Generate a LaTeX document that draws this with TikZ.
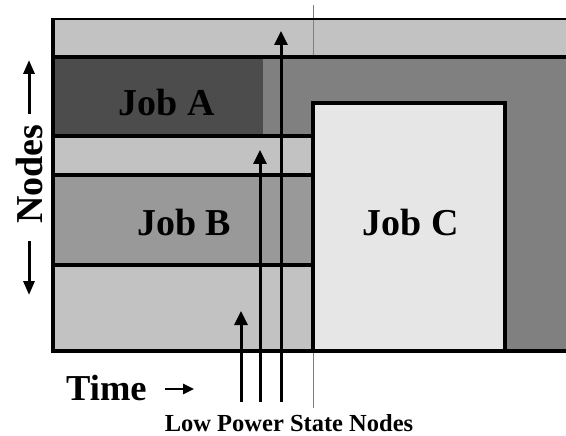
\documentclass[tikz,border=0pt]{standalone}
\usepackage{fontspec}
\setmainfont{Liberation Serif}
\usetikzlibrary{arrows.meta}
\definecolor{lightband}{HTML}{C2C2C2}
\definecolor{jobAgray}{HTML}{4C4C4C}
\definecolor{jobBgray}{HTML}{999999}
\definecolor{jobCgray}{HTML}{E6E6E6}
\definecolor{idlegray}{HTML}{808080}
\begin{document}
\begin{tikzpicture}[x=1pt, y=-1pt,
  edge/.style={line width=3.5pt},
  lowarrow/.style={line width=3pt, -{Triangle[width=13pt,length=14pt]}},
  joblabel/.style={font=\fontsize{38}{42}\selectfont\bfseries, anchor=base}]
  \useasboundingbox (0,0) rectangle (566,436);
  % background bands
  \fill[lightband] (53,19) rectangle (566,57);
  \fill[idlegray] (53,57) rectangle (566,351);
  \fill[jobAgray] (53,57) rectangle (263,136);
  \fill[lightband] (53,136) rectangle (313,175);
  \fill[jobBgray] (53,175) rectangle (313,265);
  \fill[lightband] (53,265) rectangle (313,351);
  \fill[jobCgray] (313,103) rectangle (505,351);
  % time marker
  \draw[gray, line width=1pt] (313,5) -- (313,408);
  % outlines
  \draw[line width=2.5pt] (566,19) -- (53,19);
  \draw[edge] (53,17.8) -- (53,351) -- (566,351);
  \draw[edge] (53,57) -- (566,57);
  \foreach \y in {136,175,265} \draw[edge] (53,\y) -- (313,\y);
  \draw[edge] (313,351) -- (313,103) -- (505,103) -- (505,351);
  % low power state arrows
  \draw[lowarrow] (241,402) -- (241,311);
  \draw[lowarrow] (260,402) -- (260,150);
  \draw[lowarrow] (281,402) -- (281,31);
  % labels
  \node[joblabel] (jobA) at (167,116) {Job A};
  \node[joblabel] (jobB) at (184,236) {Job B};
  \node[joblabel] (jobC) at (411,236) {Job C};
  \node[font=\fontsize{38}{42}\selectfont\bfseries, anchor=base, rotate=90] (nodes) at (42,174) {Nodes};
  \draw[line width=3pt, -{Triangle[width=11pt,length=14pt]}] (29,114) -- (29,60);
  \draw[line width=3pt, -{Triangle[width=11pt,length=14pt]}] (29,241) -- (29,295);
  \node[font=\fontsize{36.5}{40}\selectfont\bfseries, anchor=base west, inner sep=0pt] (time) at (66,400) {Time};
  \draw[line width=2.5pt, -{Triangle[width=10pt,length=11pt]}] (165,389) -- (194,389);
  \node[font=\fontsize{24.5}{28}\selectfont\bfseries, anchor=base] (lowpower) at (289,431) {Low Power State Nodes};
\end{tikzpicture}
\end{document}
